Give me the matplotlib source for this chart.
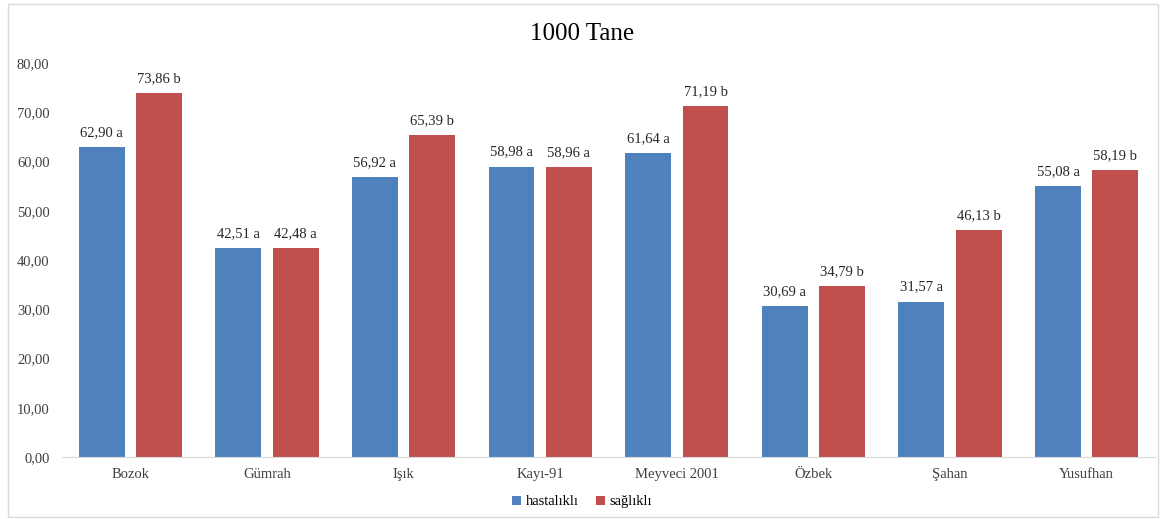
import matplotlib.pyplot as plt
import numpy as np
from matplotlib.patches import Rectangle

plt.rcParams['font.family'] = ['Liberation Serif', 'DejaVu Serif']

categories = ['Bozok', 'Gümrah', 'Işık', 'Kayı-91', 'Meyveci 2001', 'Özbek', 'Şahan', 'Yusufhan']
hastalikli = [62.90, 42.51, 56.92, 58.98, 61.64, 30.69, 31.57, 55.08]
saglikli = [73.86, 42.48, 65.39, 58.96, 71.19, 34.79, 46.13, 58.19]
letters_h = ['a', 'a', 'a', 'a', 'a', 'a', 'a', 'a']
letters_s = ['b', 'a', 'b', 'a', 'b', 'b', 'b', 'b']
yticks = [0, 10, 20, 30, 40, 50, 60, 70, 80]

blue = '#4F81BD'
red = '#C0504D'

fig = plt.figure(figsize=(11.64, 5.19), dpi=100)
ax = fig.add_axes([0.0533, 0.1195, 0.9390, 0.7591])

x = np.arange(len(categories))
w = 0.336
off = 0.21
b1 = ax.bar(x - off, hastalikli, w, color=blue, label='hastalıklı')
b2 = ax.bar(x + off, saglikli, w, color=red, label='sağlıklı')

def fmt(v):
    return f"{v:.2f}".replace('.', ',')

for bars, vals, lets in [(b1, hastalikli, letters_h), (b2, saglikli, letters_s)]:
    for bar, v, l in zip(bars, vals, lets):
        ax.text(bar.get_x() + bar.get_width() / 2, v + 1.6, f"{fmt(v)} {l}",
                ha='center', va='bottom', fontsize=10.5, color='#262626')

ax.set_xlim(-0.5, len(categories) - 0.5)
ax.set_ylim(0, 80)
ax.set_yticks(yticks)
ax.set_yticklabels([fmt(t) for t in yticks], fontsize=10.5, color='#404040')
ax.set_xticks(x)
ax.set_xticklabels(categories, fontsize=10.5, color='#404040')
ax.tick_params(axis='both', length=0, pad=8)
ax.tick_params(axis='y', pad=9)
for s in ['top', 'right', 'left']:
    ax.spines[s].set_visible(False)
ax.spines['bottom'].set_color('#D9D9D9')

fig.text(0.5, 0.935, '1000 Tane', ha='center', va='center', fontsize=18)

fig.legend(handles=[b1, b2], loc='center', bbox_to_anchor=(0.5, 0.033), ncol=2,
           frameon=False, fontsize=10.5, handlelength=0.6, handleheight=0.6,
           handletextpad=0.3, columnspacing=1.2)

fig.patches.append(Rectangle((0.007, 0.004), 0.988, 0.988, transform=fig.transFigure,
                             fill=False, edgecolor='#D9D9D9', linewidth=1))

fig.savefig('out.png', dpi=100)
